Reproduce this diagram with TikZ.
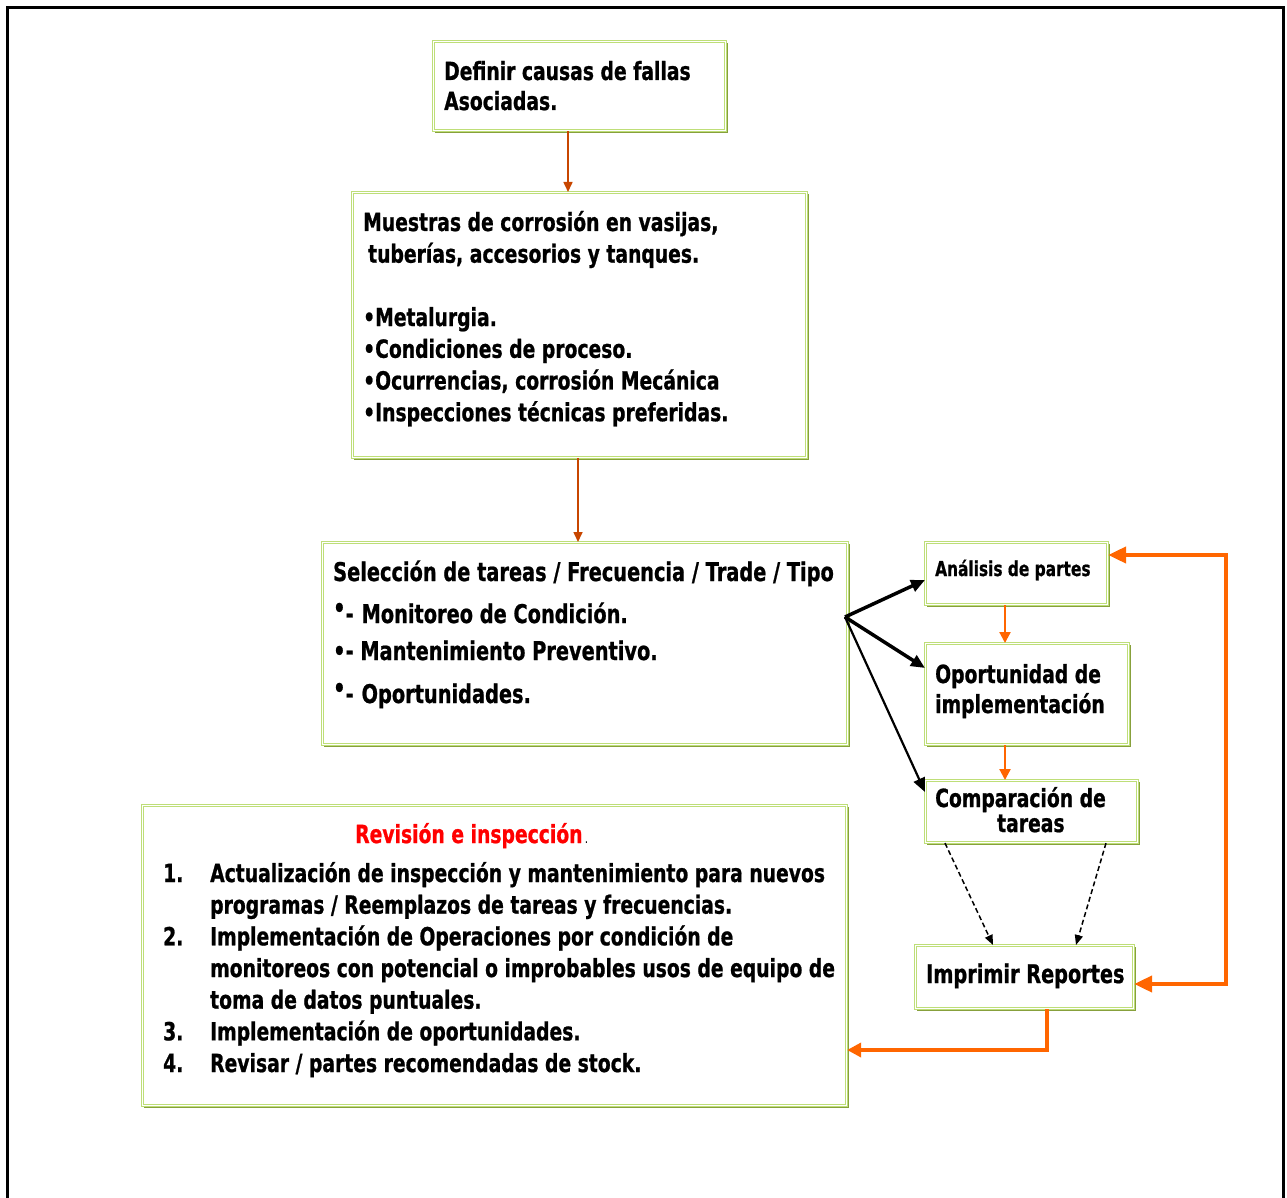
\documentclass[tikz,border=0pt]{standalone}
\usepackage{fontspec}
\usetikzlibrary{arrows.meta}
\newfontfamily\bx[FakeStretch=0.75, BoldFeatures={FakeBold=0.8}]{DejaVu Sans}
\newcommand{\fs}[2]{\fontsize{#1}{#2}\selectfont}
\definecolor{lgreen}{RGB}{190,222,120}
\definecolor{dgreen}{RGB}{135,160,60}
\definecolor{dorange}{RGB}{200,70,0}
\definecolor{borange}{RGB}{255,102,0}
\tikzset{
  box/.style={draw=lgreen, double=white, double distance=1.2pt, line width=1.1pt, fill=white,
    inner sep=0pt, anchor=north west,
    preaction={draw=dgreen, line width=1.2pt, transform canvas={shift={(2pt,-2pt)}}}},
  txt/.style={inner sep=0pt, anchor=base west, font=\bx\bfseries},
  thinarr/.style={draw=dorange, line width=1.6pt, -{Triangle[length=10pt,width=9pt]}},
  midarr/.style={draw=borange, line width=2.2pt, -{Triangle[length=11pt,width=11pt]}},
  bigarr/.style={draw=borange, line width=4pt},
  blkarr/.style={draw=black, line width=3.5pt, -{Triangle[length=14pt,width=12pt]}},
  dasharr/.style={draw=black, line width=1.5pt, dash pattern=on 5pt off 3pt, -{Triangle[length=10pt,width=8pt]}},
}
\begin{document}
\begin{tikzpicture}[x=1pt,y=-1pt]
\useasboundingbox (0,0) rectangle (1287,1198);
% outer frame, open at the bottom
\draw[line width=3pt] (7,1198) -- (7,8) -- (1283,8) -- (1283,1198);

% boxes
\node[box, minimum width=292pt, minimum height=89pt] (b1) at (433,41) {};
\node[box, minimum width=454pt, minimum height=265pt] (b2) at (352,192) {};
\node[box, minimum width=525pt, minimum height=202pt] (b3) at (322,542) {};
\node[box, minimum width=182pt, minimum height=62pt] (b4) at (925,542) {};
\node[box, minimum width=203pt, minimum height=101pt] (b5) at (925,643) {};
\node[box, minimum width=212pt, minimum height=62pt] (b6) at (925,780) {};
\node[box, minimum width=218pt, minimum height=63pt] (b7) at (915,945) {};
\node[box, minimum width=704pt, minimum height=300pt] (b8) at (142,805) {};

% texts
\node[txt] (t1) at (444,80) {\fs{25}{30}\begin{tabular}[t]{@{}l@{}}Definir causas de fallas\\Asociadas.\end{tabular}};
\node[txt] (t2) at (363,231) {\fs{25}{31.7}\begin{tabular}[t]{@{}l@{}}Muestras de corrosión en vasijas,\\\hspace*{5pt}tuberías, accesorios y tanques.\\ \\•Metalurgia.\\•Condiciones de proceso.\\•Ocurrencias, corrosión Mecánica\\•Inspecciones técnicas preferidas.\end{tabular}};
\node[txt] (t3a) at (333,581) {\fs{25.8}{30}Selección de tareas / Frecuencia / Trade / Tipo};
\node[txt] (t3b) at (333,623) {\fs{25.8}{30}\raisebox{6pt}{•}-\hspace{8pt}Monitoreo de Condición.};
\node[txt] (t3c) at (333,660) {\fs{25.8}{30}•- Mantenimiento Preventivo.};
\node[txt] (t3d) at (333,703) {\fs{25.8}{30}\raisebox{6pt}{•}-\hspace{8pt}Oportunidades.};
\node[txt] (t4) at (935,576) {\fs{20.5}{24}Análisis de partes};
\node[txt] (t5) at (935,683) {\fs{25}{30}\begin{tabular}[t]{@{}l@{}}Oportunidad de\\implementación\end{tabular}};
\node[txt] (t6) at (935,807) {\fs{25}{25}\begin{tabular}[t]{@{}l@{}}Comparación de\\\hspace*{62pt}tareas\end{tabular}};
\node[txt] (t7) at (926,983) {\fs{25.7}{28}Imprimir Reportes};
\node[txt] (t8) at (355,843) {\fs{25}{28}\textcolor{red}{Revisión e inspección}\fs{14}{16}\mdseries\,.};
\node[txt] (t9) at (163,882) {\fs{25}{31.67}\begin{tabular}[t]{@{}p{47pt}@{}l@{}}
1. & Actualización de inspección y mantenimiento para nuevos\\
   & programas / Reemplazos de tareas y frecuencias.\\
2. & Implementación de Operaciones por condición de\\
   & monitoreos con potencial o improbables usos de equipo de\\
   & toma de datos puntuales.\\
3. & Implementación de oportunidades.\\
4. & Revisar / partes recomendadas de stock.
\end{tabular}};

% connectors
\draw[thinarr] (b1.south -| 568,0) -- (b2.north -| 568,0);
\draw[thinarr] (b2.south -| 578,0) -- (b3.north -| 578,0);

\coordinate (fork) at (845,617);
\draw[blkarr] (fork) -- (b4.west |- 0,580);
\draw[blkarr] (fork) -- (b5.west |- 0,668);
\draw[blkarr, line width=2.2pt] (fork) -- (925,792);

\draw[midarr] (b4.south -| 1005,0) -- (b5.north -| 1005,0);
\draw[midarr] (b5.south -| 1005,0) -- (b6.north -| 1005,0);

\draw[dasharr] (b6.south -| 945,0) -- (b7.north -| 993,0);
\draw[dasharr] (b6.south -| 1106,0) -- (b7.north -| 1076,0);

\coordinate (loopTop) at (1226,555);
\coordinate (loopBot) at (1226,984);
\draw[bigarr, {Triangle[length=18pt,width=16pt]}-{Triangle[length=18pt,width=16pt]}]
  (b4.east |- loopTop) -- (loopTop) -- (loopBot) -- (b7.east |- loopBot);

\coordinate (outBend) at (1047,1050);
\draw[bigarr, -{Triangle[length=14pt,width=14pt]}]
  (b7.south -| outBend) -- (outBend) -- (b8.east |- outBend);
\end{tikzpicture}
\end{document}
